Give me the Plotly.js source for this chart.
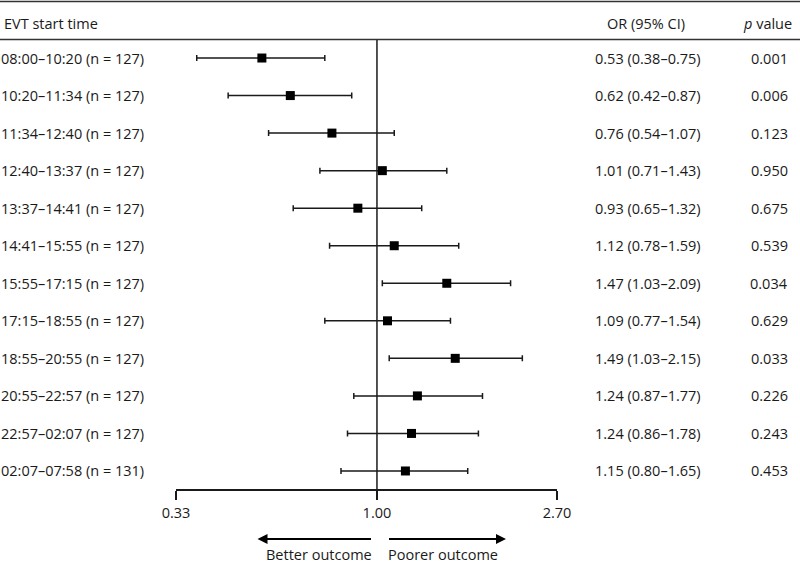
<!DOCTYPE html>
<html><head><meta charset="utf-8">
<script src="https://cdn.plot.ly/plotly-3.0.1.min.js"></script>
<style>html,body{margin:0;padding:0;background:#fff}#chart{width:800px;height:563px}</style>
</head><body><div id="chart"></div>
<script>
// ---- data ----
const timeLabels = ['08:00–10:20 (n = 127)','10:20–11:34 (n = 127)','11:34–12:40 (n = 127)','12:40–13:37 (n = 127)',
  '13:37–14:41 (n = 127)','14:41–15:55 (n = 127)','15:55–17:15 (n = 127)','17:15–18:55 (n = 127)',
  '18:55–20:55 (n = 127)','20:55–22:57 (n = 127)','22:57–02:07 (n = 127)','02:07–07:58 (n = 131)'];
// positions of the marks as drawn in the picture
const orValues = [0.53, 0.62, 0.78, 1.03, 0.90, 1.10, 1.47, 1.06, 1.54, 1.25, 1.21, 1.17];
const ciLower  = [0.37, 0.44, 0.55, 0.73, 0.63, 0.77, 1.03, 0.75, 1.07, 0.88, 0.85, 0.82];
const ciUpper  = [0.75, 0.87, 1.10, 1.47, 1.28, 1.57, 2.09, 1.50, 2.23, 1.79, 1.75, 1.65];
// table columns as printed
const orCiText = ['0.53 (0.38–0.75)','0.62 (0.42–0.87)','0.76 (0.54–1.07)','1.01 (0.71–1.43)','0.93 (0.65–1.32)',
  '1.12 (0.78–1.59)','1.47 (1.03–2.09)','1.09 (0.77–1.54)','1.49 (1.03–2.15)','1.24 (0.87–1.77)',
  '1.24 (0.86–1.78)','1.15 (0.80–1.65)'];
const pValues = ['0.001','0.006','0.123','0.950','0.675','0.539','0.034','0.629','0.033','0.226','0.243','0.453'];
const xTickVals = [0.33, 1, 2.7];
const xTickText = ['0.33','1.00','2.70'];
const headers = ['EVT start time','OR (95% CI)','<i>p</i> value'];
const directionLabels = ['Better outcome','Poorer outcome'];
const refOR = 1;

// ---- layout geometry (pixels) ----
const W = 800, H = 563, L = 176, R = 557, T = 40, B = 489;
const px = p => (p - L) / (R - L);
const py = p => (B - p) / (B - T);
const yTop = 0.52, yBot = 12.48;
const rows = timeLabels.map((_, i) => i + 1);
const FONT = 'Open Sans, Noto Sans, sans-serif';
const FS = 14.5;
const TXT = '#1a1a1a';
const LINE = '#1a1a1a';

const traces = [
  {
    type: 'scatter', mode: 'lines', x: [refOR, refOR], y: [yTop, yBot],
    line: {color: LINE, width: 1.5}, hoverinfo: 'skip', cliponaxis: false
  },
  {
    type: 'scatter', mode: 'markers', x: orValues, y: rows,
    marker: {symbol: 'square', size: 9, color: '#000'},
    error_x: {
      type: 'data', symmetric: false,
      array: orValues.map((v, i) => ciUpper[i] - v),
      arrayminus: orValues.map((v, i) => v - ciLower[i]),
      color: LINE, thickness: 1.5, width: 3
    },
    cliponaxis: false
  }
];

const annotations = [];
const ann = (o) => annotations.push(Object.assign({showarrow: false, font: {family: FONT, size: FS, color: TXT}}, o));
rows.forEach((r, i) => {
  ann({xref: 'paper', yref: 'y', x: px(-1), y: r, xanchor: 'left', yanchor: 'middle', text: timeLabels[i]});
  ann({xref: 'paper', yref: 'y', x: px(648), y: r, xanchor: 'center', yanchor: 'middle', text: orCiText[i]});
  ann({xref: 'paper', yref: 'y', x: px(769), y: r, xanchor: 'center', yanchor: 'middle', text: pValues[i]});
});
ann({xref: 'paper', yref: 'paper', x: px(1.5), y: py(23), xanchor: 'left', yanchor: 'middle', text: headers[0]});
ann({xref: 'paper', yref: 'paper', x: px(645.5), y: py(23), xanchor: 'center', yanchor: 'middle', text: headers[1]});
ann({xref: 'paper', yref: 'paper', x: px(767.5), y: py(23), xanchor: 'center', yanchor: 'middle', text: headers[2]});
ann({xref: 'paper', yref: 'paper', x: px(374), y: py(554), xanchor: 'right', yanchor: 'middle', text: directionLabels[0]});
ann({xref: 'paper', yref: 'paper', x: px(386), y: py(554), xanchor: 'left', yanchor: 'middle', text: directionLabels[1]});
// arrows
annotations.push({xref: 'paper', yref: 'paper', x: px(257.5), y: py(539), ax: 115, ay: 0, text: '',
  showarrow: true, arrowhead: 2, arrowsize: 1, arrowwidth: 2, arrowcolor: '#000', standoff: 0, startstandoff: 0});
annotations.push({xref: 'paper', yref: 'paper', x: px(506), y: py(539), ax: -118.5, ay: 0, text: '',
  showarrow: true, arrowhead: 2, arrowsize: 1, arrowwidth: 2, arrowcolor: '#000', standoff: 0, startstandoff: 0});

const shapes = [
  {type: 'line', xref: 'paper', yref: 'paper', x0: px(0), x1: px(W), y0: py(1.5), y1: py(1.5), line: {color: '#333', width: 1.5}},
  {type: 'line', xref: 'paper', yref: 'paper', x0: px(0), x1: px(W), y0: py(39.5), y1: py(39.5), line: {color: '#333', width: 1.5}}
];

const layout = {
  width: W, height: H,
  margin: {l: L, r: W - R, t: T, b: H - B, pad: 0},
  paper_bgcolor: '#fff', plot_bgcolor: 'rgba(0,0,0,0)',
  showlegend: false,
  font: {family: FONT, size: FS, color: TXT},
  xaxis: {
    type: 'log', range: [Math.log10(xTickVals[0]), Math.log10(xTickVals[2])],
    tickmode: 'array', tickvals: xTickVals, ticktext: xTickText,
    showline: true, linecolor: LINE, linewidth: 1.5, mirror: false,
    ticks: 'outside', ticklen: 9, tickwidth: 1.5, tickcolor: LINE,
    ticklabelstandoff: 1,
    showgrid: false, zeroline: false, fixedrange: true,
    tickfont: {family: FONT, size: FS, color: TXT}
  },
  yaxis: {
    range: [yBot, yTop], visible: false, showgrid: false, zeroline: false, fixedrange: true
  },
  annotations: annotations,
  shapes: shapes
};

Plotly.newPlot('chart', traces, layout, {displayModeBar: false, staticPlot: true});
</script>
</body></html>
